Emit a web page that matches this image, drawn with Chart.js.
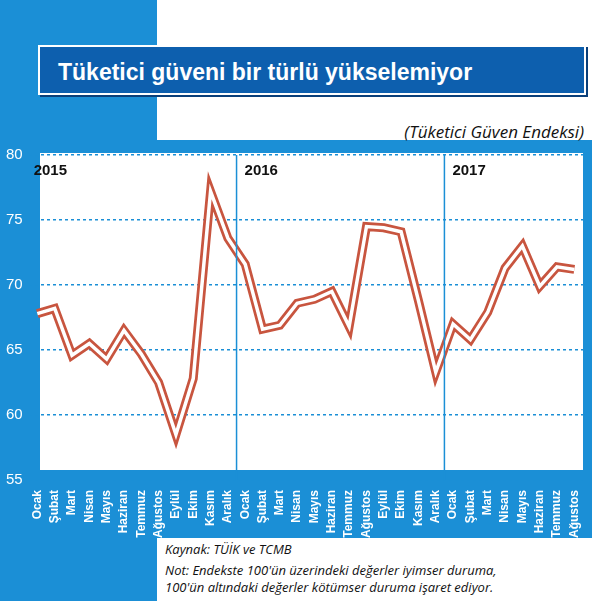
<!DOCTYPE html>
<html><head><meta charset="utf-8">
<script src="https://cdn.jsdelivr.net/npm/chart.js@4"></script>
<style>
body{margin:0;width:592px;height:601px;position:relative;background:#1b8fd6;overflow:hidden;font-family:"Open Sans",sans-serif}
#topw{position:absolute;left:157px;top:0;width:435px;height:140px;background:#fff}
#title{position:absolute;left:38px;top:45px;width:548px;height:50px;background:#0d5fae;border:2px solid #fff;box-shadow:2px 2px 0 #0a3f7a;color:#fff;font:bold 23px "Liberation Sans Narrow","Liberation Sans",sans-serif;line-height:50px;padding-left:18px;box-sizing:border-box}
#sub{position:absolute;right:8px;top:120px;font-style:italic;font-size:17px;color:#111}
#plotbg{position:absolute;left:40px;top:153px;width:543px;height:317px;background:#fff}
#note{position:absolute;left:157px;top:538px;width:435px;height:63px;background:#fff;font-style:italic;font-size:13px;color:#111;line-height:17px;padding:3px 0 0 8px;box-sizing:border-box}
#wrap{position:absolute;left:0;top:140px;width:592px;height:400px}
</style></head><body>
<div id="topw"></div>
<div id="title">Tüketici güveni bir türlü yükselemiyor</div>
<div id="sub">(Tüketici Güven Endeksi)</div>
<div id="plotbg"></div>
<div id="note">Kaynak: TÜİK ve TCMB<br><span style="display:block;margin-top:4px">Not: Endekste 100'ün üzerindeki değerler iyimser duruma,<br>100'ün altındaki değerler kötümser duruma işaret ediyor.</span></div>
<div id="wrap"><canvas id="c"></canvas></div>
<script>
const months=["Ocak","Şubat","Mart","Nisan","Mayıs","Haziran","Temmuz","Ağustos","Eylül","Ekim","Kasım","Aralık"];
const labels=[...months,...months,...months.slice(0,8)];
const years=["2015","2016","2017"];
const values=[67.8,68.2,64.6,65.5,64.3,66.5,64.7,62.5,58.5,62.8,77.2,73.6,
71.6,66.6,66.9,68.6,68.9,69.5,66.8,74.5,74.4,74.1,68.8,63.3,
67.0,65.8,67.9,71.3,73.0,69.9,71.4,71.2];
const yTicks=[55,60,65,70,75,80];
const yearPlugin={id:'yr',afterDatasetsDraw(ch){const {ctx,chartArea:a,scales:{x}}=ch;ctx.save();
ctx.strokeStyle='#1b8fd6';ctx.lineWidth=1.5;
[12,24].forEach(i=>{const px=(x.getPixelForValue(i-1)+x.getPixelForValue(i))/2;ctx.beginPath();ctx.moveTo(px,a.top);ctx.lineTo(px,a.bottom);ctx.stroke();});
ctx.fillStyle='#111';ctx.font='bold 15px "Liberation Sans Narrow",sans-serif';
[0,12,24].forEach((i,k)=>{const px=i==0?a.left+5:(x.getPixelForValue(i-1)+x.getPixelForValue(i))/2+8;ctx.fillText(years[k],px,a.top+20);});
ctx.restore();}};
new Chart(document.getElementById('c'),{type:'line',
data:{labels,datasets:[
{data:values,borderColor:'#fff',borderWidth:3.5,pointRadius:0,tension:0,order:0},
{data:values,borderColor:'#c8553f',borderWidth:9,pointRadius:0,tension:0,order:1}]},
options:{responsive:true,maintainAspectRatio:false,animation:false,
layout:{padding:{right:9,top:13}},
plugins:{legend:{display:false},tooltip:{enabled:false}},
scales:{
x:{offset:true,grid:{display:false,drawTicks:true},border:{display:false},
ticks:{color:'#fff',font:{family:'"Liberation Sans Narrow",sans-serif',weight:'bold',size:12},minRotation:90,maxRotation:90,autoSkip:false,padding:2}},
y:{min:55,max:80,afterBuildTicks:s=>{s.ticks=yTicks.map(v=>({value:v}));},
grid:{color:'#1b8fd6',lineWidth:1.5,drawTicks:false},border:{display:false,dash:[3,3]},
ticks:{color:'#fff',font:{family:'"Liberation Sans Narrow",sans-serif',size:15},padding:6}}}},
plugins:[yearPlugin]});
</script></body></html>
